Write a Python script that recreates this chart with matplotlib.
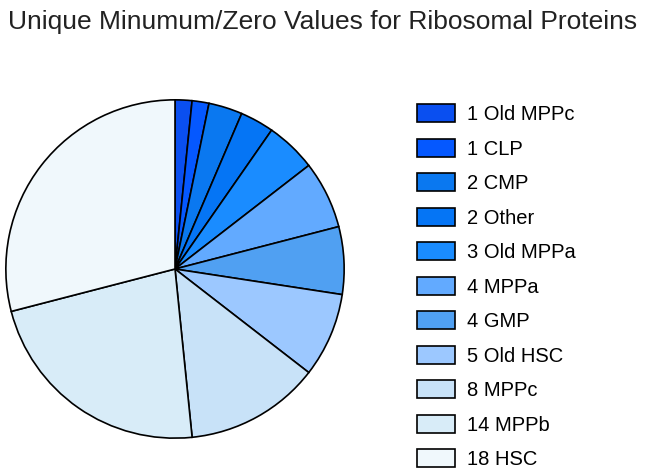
import matplotlib.pyplot as plt
from matplotlib.patches import Patch

labels = ["Old MPPc", "CLP", "CMP", "Other", "Old MPPa", "MPPa", "GMP",
          "Old HSC", "MPPc", "MPPb", "HSC"]
values = [1, 1, 2, 2, 3, 4, 4, 5, 8, 14, 18]
colors = ["#0A4FF0", "#0558FF", "#0A78F0", "#0575F5", "#1A8CFF", "#62AAFF",
          "#50A0F2", "#9CC8FF", "#C8E2F8", "#D8ECF8", "#F0F8FC"]

def main():
    plt.rcParams['font.family'] = ['Liberation Sans', 'DejaVu Sans']
    fig = plt.figure(figsize=(6.46, 4.71), dpi=100)

    ax = fig.add_axes([5 / 646, 32 / 471, 340 / 646, 340 / 471])
    ax.pie(values, colors=colors, startangle=90, counterclock=False,
           wedgeprops={'edgecolor': 'black', 'linewidth': 1.2})
    ax.set_xlim(-1.005, 1.005)
    ax.set_ylim(-1.005, 1.005)
    ax.set_aspect('equal')

    fig.text(0.5, 1 - 22 / 471, "Unique Minumum/Zero Values for Ribosomal Proteins",
             ha='center', va='center', fontsize=19, color='#222222')

    handles = [Patch(facecolor=c, edgecolor='black', linewidth=1.2) for c in colors]
    texts = [f"{v} {l}" for v, l in zip(values, labels)]
    fig.legend(handles, texts, loc='upper left', bbox_to_anchor=(399 / 646, 1 - 86 / 471),
               frameon=False, fontsize=14.5, handlelength=1.9, handleheight=1.0,
               labelspacing=0.725, handletextpad=0.6)

    fig.savefig("out.png", dpi=100)

if __name__ == '__main__':
    main()
